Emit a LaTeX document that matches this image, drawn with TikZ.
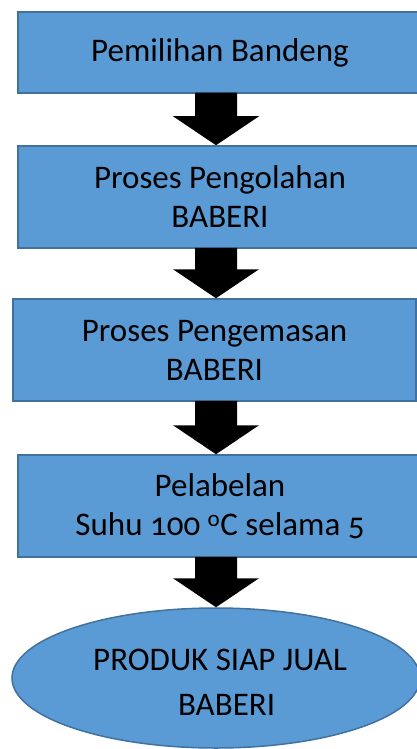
\documentclass[tikz,border=0pt]{standalone}
\usepackage{fontspec}
\setmainfont[Numbers=OldStyle]{Carlito}
\usetikzlibrary{calc,shapes.geometric}
\definecolor{boxfill}{HTML}{5B9BD5}
\definecolor{boxline}{HTML}{41719C}
\tikzset{
  stepbox/.style={draw=boxline, line width=1.5pt, fill=boxfill, rectangle,
    minimum width=#1, inner sep=0pt, align=center,
    font=\fontsize{33}{39}\selectfont},
  endoval/.style={draw=boxline, line width=1.5pt, fill=boxfill, ellipse,
    minimum width=408pt, minimum height=140pt, inner sep=0pt, align=center,
    font=\fontsize{33}{45}\selectfont},
}
\newcommand{\blockarr}[2]{%
  \fill ($(#1.south -| ax)+(-21,-1)$) -- ($(#1.south -| ax)+(21,-1)$)
     -- ($(#2.north -| ax)+(21,-29)$) -- ($(#2.north -| ax)+(43,-29)$)
     -- (#2.north -| ax) -- ($(#2.north -| ax)+(-43,-29)$)
     -- ($(#2.north -| ax)+(-21,-29)$) -- cycle;}
\begin{document}
\begin{tikzpicture}[x=1pt,y=-1pt]
\useasboundingbox (0,0) rectangle (417,749);
\coordinate (ax) at (216,0);
\node[stepbox=404pt, minimum height=81pt] (b1) at (220,52.5) {Pemilihan Bandeng};
\node[stepbox=404pt, minimum height=102pt] (b2) at (220,197) {Proses Pengolahan\\BABERI};
\node[stepbox=403pt, minimum height=102pt] (b3) at (214.5,350) {Proses Pengemasan\\BABERI};
\node[stepbox=404pt, minimum height=102pt] (b4) at (220,506) {Pelabelan\\Suhu 100 \textsuperscript{o}C selama 5};
\node[endoval] (e) at (216,678) {};
\node[font=\fontsize{33}{45}\selectfont, align=center, inner sep=0pt] (et) at (220,682) {PRODUK SIAP JUAL\\\hspace*{0.4em}BABERI};
\blockarr{b1}{b2}
\blockarr{b2}{b3}
\blockarr{b3}{b4}
\blockarr{b4}{e}
\end{tikzpicture}
\end{document}
